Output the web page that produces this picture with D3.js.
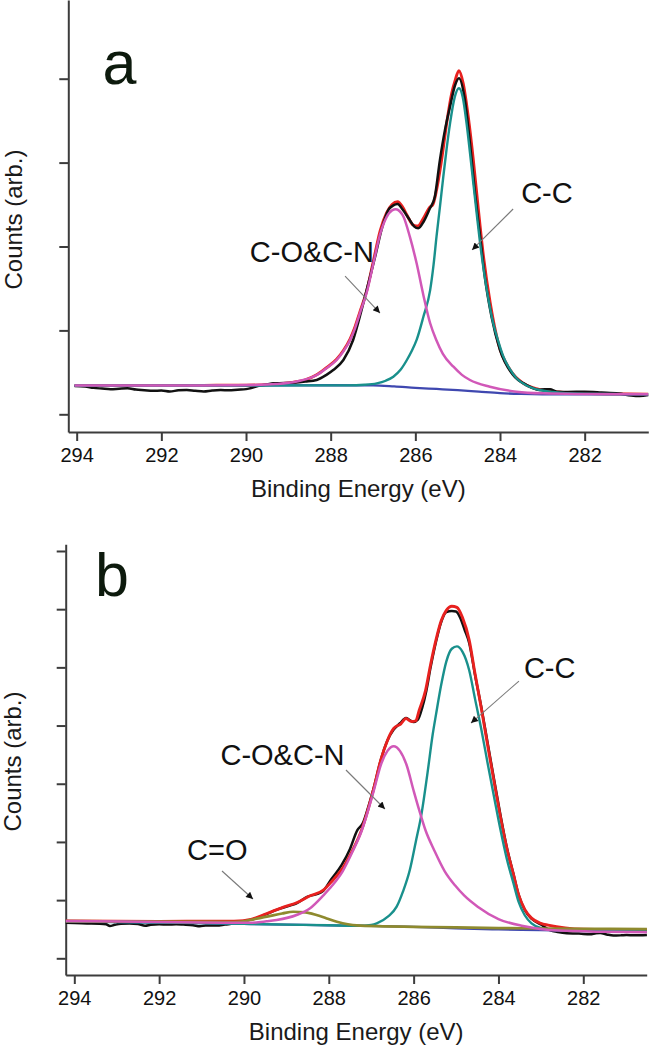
<!DOCTYPE html>
<html>
<head>
<meta charset="utf-8">
<script src="https://cdn.jsdelivr.net/npm/d3@7"></script>
<style>
  html, body { margin: 0; padding: 0; background: #fff; }
  svg { display: block; font-family: "Liberation Sans", Arial, sans-serif; }
</style>
</head>
<body>
<svg id="chart" width="651" height="1050"></svg>
<script>
// ---------------- DATA ----------------
const energyTicks = [294, 292, 290, 288, 286, 284, 282];
const countTicksA = [0, 1, 2, 3, 4];
const countTicksB = [0, 1, 2, 3, 4, 5, 6, 7];

// Panel a  ([binding energy eV, counts arb.])
const rawA = [[294.05,0.337],[293.8,0.33],[293.6,0.315],[293.4,0.307],[293.2,0.3],[293.0,0.305],[292.8,0.31],[292.6,0.295],[292.4,0.288],[292.2,0.28],[292.0,0.284],[291.8,0.272],[291.6,0.286],[291.4,0.29],[291.2,0.28],[291.0,0.272],[290.8,0.283],[290.6,0.289],[290.4,0.286],[290.2,0.294],[290.0,0.3],[289.9,0.31],[289.7,0.34],[289.5,0.355],[289.36,0.369],[289.1,0.372],[288.88,0.377],[288.6,0.39],[288.33,0.409],[288.1,0.47],[287.94,0.528],[287.7,0.647],[287.47,0.886],[287.27,1.243],[287.11,1.56],[286.95,1.878],[286.8,2.197],[286.64,2.435],[286.52,2.49],[286.42,2.506],[286.3,2.44],[286.15,2.33],[286.03,2.24],[285.93,2.217],[285.8,2.3],[285.66,2.45],[285.54,2.594],[285.42,3.03],[285.3,3.39],[285.18,3.67],[285.06,3.925],[284.97,4.005],[284.83,3.746],[284.71,3.23],[284.59,2.634],[284.47,2.117],[284.36,1.64],[284.2,1.163],[284.0,0.766],[283.69,0.468],[283.37,0.349],[283.06,0.29],[282.95,0.3],[282.82,0.298],[282.66,0.27],[282.4,0.266],[282.0,0.269],[281.6,0.26],[281.2,0.248],[280.9,0.224],[280.7,0.218],[280.5,0.23]];
const fitA = [[294.05,0.342],[291,0.345],[290,0.347],[289.5,0.352],[289,0.375],[288.6,0.41],[288.33,0.47],[288.1,0.555],[287.86,0.655],[287.7,0.76],[287.54,0.9],[287.42,1.05],[287.31,1.22],[287.15,1.47],[286.99,1.83],[286.83,2.19],[286.68,2.4],[286.55,2.5],[286.42,2.534],[286.3,2.47],[286.2,2.375],[286.05,2.256],[285.94,2.244],[285.81,2.336],[285.65,2.474],[285.59,2.495],[285.5,2.67],[285.38,3.03],[285.26,3.47],[285.14,3.83],[285.06,3.98],[284.97,4.095],[284.87,3.945],[284.75,3.547],[284.63,3.03],[284.51,2.435],[284.39,1.878],[284.23,1.323],[284.04,0.846],[283.76,0.528],[283.45,0.37],[283.1,0.3],[282.6,0.265],[282,0.25],[280.5,0.24]];
const ccA = [[294.05,0.342],[290,0.344],[288.5,0.345],[287.6,0.345],[287.2,0.352],[286.91,0.369],[286.7,0.4],[286.52,0.448],[286.35,0.53],[286.2,0.647],[286.08,0.76],[285.97,0.886],[285.81,1.163],[285.65,1.48],[285.57,1.78],[285.5,2.117],[285.42,2.47],[285.34,2.83],[285.26,3.17],[285.18,3.468],[285.07,3.78],[284.97,3.886],[284.88,3.78],[284.79,3.468],[284.71,3.12],[284.63,2.753],[284.55,2.39],[284.47,2.038],[284.39,1.74],[284.31,1.48],[284.16,1.085],[284.04,0.87],[283.92,0.687],[283.77,0.54],[283.61,0.429],[283.4,0.35],[283.21,0.31],[282.82,0.27],[282,0.245],[280.5,0.238]];
const coA = [[294.05,0.342],[292,0.343],[290.5,0.346],[289.9,0.349],[289.3,0.36],[288.8,0.39],[288.33,0.468],[288.1,0.55],[287.86,0.647],[287.7,0.75],[287.54,0.886],[287.42,1.03],[287.31,1.204],[287.15,1.45],[286.99,1.8],[286.83,2.15],[286.68,2.35],[286.55,2.43],[286.46,2.443],[286.37,2.42],[286.28,2.355],[286.13,2.117],[285.97,1.8],[285.81,1.42],[285.65,1.085],[285.5,0.88],[285.35,0.72],[285.1,0.567],[284.9,0.47],[284.71,0.409],[284.24,0.329],[283.61,0.27],[283,0.25],[282,0.242],[280.5,0.238]];
const bgA = [[294.05,0.342],[290,0.344],[288,0.346],[287,0.345],[286.5,0.333],[286,0.316],[285.5,0.302],[285,0.288],[284.5,0.27],[284,0.252],[283.5,0.243],[283,0.239],[280.5,0.237]];

// Panel b
const rawB = [[294.2,0.61],[294.0,0.605],[293.7,0.6],[293.4,0.595],[293.25,0.585],[293.16,0.555],[293.05,0.575],[292.9,0.595],[292.7,0.6],[292.5,0.59],[292.33,0.56],[292.2,0.575],[292.0,0.585],[291.8,0.58],[291.6,0.585],[291.43,0.58],[291.2,0.57],[291.04,0.55],[290.9,0.565],[290.64,0.565],[290.45,0.58],[290.33,0.59],[290.15,0.615],[290.0,0.64],[289.86,0.66],[289.5,0.75],[289.2,0.84],[288.9,0.91],[288.76,0.945],[288.5,1.06],[288.3,1.1],[288.13,1.16],[287.95,1.35],[287.7,1.6],[287.5,1.88],[287.33,2.2],[287.2,2.32],[287.07,2.6],[286.94,2.93],[286.77,3.42],[286.62,3.74],[286.47,3.93],[286.32,4.04],[286.18,4.13],[286.1,4.1],[286.0,4.06],[285.9,4.1],[285.8,4.3],[285.7,4.6],[285.6,5.0],[285.47,5.45],[285.35,5.78],[285.23,5.95],[285.1,5.97],[285.0,5.96],[284.9,5.85],[284.8,5.65],[284.69,5.42],[284.55,4.86],[284.4,4.3],[284.25,3.68],[284.1,3.06],[283.95,2.45],[283.81,1.93],[283.65,1.46],[283.52,1.08],[283.38,0.83],[283.22,0.68],[283.0,0.58],[282.79,0.486],[282.6,0.45],[282.39,0.43],[282.1,0.425],[281.84,0.412],[281.7,0.43],[281.6,0.435],[281.45,0.41],[281.29,0.39],[281.1,0.395],[280.98,0.4],[280.8,0.395],[280.66,0.395],[280.5,0.4]];
const fitB = [[294.2,0.64],[292,0.635],[290.5,0.638],[290.0,0.648],[289.86,0.665],[289.46,0.77],[289.07,0.88],[288.76,0.955],[288.44,1.075],[288.13,1.17],[287.92,1.33],[287.67,1.55],[287.43,1.87],[287.22,2.22],[287.07,2.57],[286.94,2.92],[286.77,3.42],[286.62,3.74],[286.47,3.95],[286.3,4.03],[286.18,4.12],[286.05,4.07],[285.95,4.08],[285.87,4.26],[285.72,4.6],[285.6,5.05],[285.47,5.48],[285.35,5.8],[285.23,5.98],[285.1,6.05],[284.98,6.03],[284.85,5.86],[284.69,5.47],[284.55,4.88],[284.4,4.28],[284.25,3.64],[284.1,3.02],[283.95,2.415],[283.81,1.91],[283.65,1.45],[283.52,1.08],[283.38,0.84],[283.22,0.69],[283.0,0.6],[282.83,0.57],[282,0.5],[280.5,0.488]];
const ccB = [[294.2,0.635],[291,0.605],[289,0.578],[288,0.567],[287.3,0.56],[287.0,0.575],[286.87,0.6],[286.6,0.72],[286.4,0.887],[286.25,1.15],[286.09,1.517],[285.95,2.0],[285.81,2.5],[285.67,3.2],[285.55,3.85],[285.47,4.2],[285.35,4.7],[285.23,5.1],[285.1,5.32],[284.98,5.36],[284.85,5.27],[284.69,4.95],[284.55,4.45],[284.4,3.92],[284.25,3.33],[284.1,2.76],[283.95,2.2],[283.81,1.73],[283.65,1.3],[283.52,0.96],[283.38,0.74],[283.22,0.6],[283.0,0.52],[282.83,0.494],[282,0.47],[280.5,0.462]];
const coB = [[294.2,0.64],[292,0.625],[290.5,0.612],[289.86,0.61],[289.47,0.635],[289.23,0.658],[288.76,0.744],[288.44,0.86],[288.13,1.08],[287.92,1.25],[287.67,1.5],[287.43,1.85],[287.22,2.2],[287.07,2.55],[286.94,2.88],[286.77,3.33],[286.62,3.56],[286.47,3.645],[286.32,3.56],[286.17,3.33],[286.0,2.88],[285.87,2.55],[285.72,2.2],[285.51,1.85],[285.27,1.5],[285.02,1.25],[284.81,1.08],[284.49,0.887],[284.0,0.675],[283.42,0.555],[282.57,0.476],[281.5,0.455],[280.5,0.447]];
const coxB = [[294.2,0.64],[291,0.625],[290.25,0.622],[290.0,0.635],[289.86,0.658],[289.46,0.715],[289.1,0.77],[288.84,0.8],[288.55,0.79],[288.29,0.744],[288.05,0.685],[287.81,0.629],[287.55,0.585],[287.34,0.565],[286.72,0.55],[286,0.54],[285,0.53],[284,0.52],[283,0.512],[282,0.507],[280.5,0.503]];
const bgB = [[294.2,0.635],[291,0.605],[290,0.59],[289,0.578],[288,0.567],[287,0.556],[286,0.54],[285,0.515],[284,0.497],[283,0.484],[282,0.473],[280.5,0.462]];

// Annotations (text, label anchor in data units, arrow from -> to in data units)
const notesA = [
  { text: "C-O&C-N", e: 286.98, v: 1.819, anchor: "end", from: [287.66, 1.648], to: [286.835, 1.207] },
  { text: "C-C", e: 283.50, v: 2.524, anchor: "start", from: [283.69, 2.447], to: [284.66, 1.959] }
];
const notesB = [
  { text: "C-O&C-N", e: 287.63, v: 3.322, anchor: "end", from: [287.595, 3.236], to: [286.676, 2.566] },
  { text: "C-C", e: 283.40, v: 4.817, anchor: "start", from: [283.517, 4.765], to: [284.648, 4.043] },
  { text: "C=O", e: 291.343, v: 1.681, anchor: "start", from: [290.518, 1.50], to: [289.787, 1.019] }
];

// ---------------- LAYOUT / STYLE ----------------
const colors = { raw: "#111111", fit: "#e8211f", cc: "#19908c", co: "#d158b8", cox: "#8e8a2e", bg: "#3f48b0" };
const svg = d3.select("#chart");

const defs = svg.append("defs");
defs.append("marker").attr("id", "ah").attr("viewBox", "0 0 10 10")
  .attr("refX", 10).attr("refY", 5).attr("markerWidth", 10).attr("markerHeight", 7)
  .attr("markerUnits", "userSpaceOnUse").attr("orient", "auto")
  .append("path").attr("d", "M0,0 L10,5 L0,10 Z").attr("fill", "#111");

function drawPanel(cfg) {
  const x = d3.scaleLinear().domain(cfg.xDomain).range([cfg.left, cfg.right]);
  const y = d3.scaleLinear().domain(cfg.yDomain).range([cfg.bottom, cfg.top]);
  const g = svg.append("g");

  // axes
  const xAxis = d3.axisBottom(x).tickValues(energyTicks).tickFormat(d3.format("d"))
    .tickSize(9).tickSizeOuter(0).tickPadding(7);
  const gx = g.append("g").attr("transform", `translate(0,${cfg.bottom})`).call(xAxis);
  const yAxis = d3.axisLeft(y).tickValues(cfg.yTicks).tickFormat("").tickSize(9).tickSizeOuter(0);
  const gy = g.append("g").attr("transform", `translate(${cfg.left},0)`).call(yAxis);
  [gx, gy].forEach(a => {
    a.selectAll("path.domain").attr("stroke", "#3c3c3c").attr("stroke-width", 2);
    a.selectAll(".tick line").attr("stroke", "#3c3c3c").attr("stroke-width", 2);
  });
  gx.selectAll(".tick text").attr("font-size", 20).attr("fill", "#111")
    .attr("font-family", "Liberation Sans, Arial, sans-serif");

  g.append("text").attr("x", (cfg.left + cfg.right) / 2).attr("y", cfg.bottom + 65)
    .attr("text-anchor", "middle").attr("font-size", 24).attr("fill", "#1a1a1a")
    .text("Binding Energy (eV)");
  g.append("text").attr("transform", `translate(${cfg.ylabX},${cfg.ylabY}) rotate(-90)`)
    .attr("text-anchor", "middle").attr("font-size", 24).attr("fill", "#1a1a1a")
    .text("Counts (arb.)");

  // curves
  const line = d3.line().x(d => x(d[0])).y(d => y(d[1])).curve(d3.curveMonotoneX);
  cfg.series.forEach(s => {
    g.append("path").datum(s.data).attr("d", line).attr("fill", "none")
      .attr("stroke", s.color).attr("stroke-width", s.w).attr("stroke-linejoin", "round");
  });

  // annotations
  cfg.notes.forEach(n => {
    g.append("line").attr("x1", x(n.from[0])).attr("y1", y(n.from[1]))
      .attr("x2", x(n.to[0])).attr("y2", y(n.to[1]))
      .attr("stroke", "#7a7a7a").attr("stroke-width", 1.1).attr("marker-end", "url(#ah)");
    g.append("text").attr("x", x(n.e)).attr("y", y(n.v)).attr("text-anchor", n.anchor)
      .attr("font-size", 29).attr("fill", "#111").text(n.text);
  });

  g.append("text").attr("x", x(cfg.letter.e)).attr("y", y(cfg.letter.v))
    .attr("font-size", 61).attr("fill", "#0d1a0d").text(cfg.letter.text);
}

drawPanel({
  left: 68.3, right: 648.3, top: 0, bottom: 432,
  xDomain: [294.198, 280.497], yDomain: [-0.211, 4.938], yTicks: countTicksA,
  ylabX: 21.5, ylabY: 219.5,
  series: [
    { data: fitA, color: colors.fit, w: 2.9 },
    { data: rawA, color: colors.raw, w: 2.5 },
    { data: bgA, color: colors.bg, w: 2.3 },
    { data: ccA, color: colors.cc, w: 2.4 },
    { data: coA, color: colors.co, w: 2.5 }
  ],
  notes: notesA,
  letter: { text: "a", e: 293.39, v: 3.931 }
});

drawPanel({
  left: 65.7, right: 646.7, top: 544.3, bottom: 975,
  xDomain: [294.203, 280.505], yDomain: [-0.287, 7.115], yTicks: countTicksB,
  ylabX: 20.5, ylabY: 761.5,
  series: [
    { data: rawB, color: colors.raw, w: 2.5 },
    { data: fitB, color: colors.fit, w: 2.9 },
    { data: bgB, color: colors.bg, w: 2.3 },
    { data: ccB, color: colors.cc, w: 2.4 },
    { data: coxB, color: colors.cox, w: 2.7 },
    { data: coB, color: colors.co, w: 2.5 }
  ],
  notes: notesB,
  letter: { text: "b", e: 293.51, v: 6.226 }
});
</script>
</body>
</html>
